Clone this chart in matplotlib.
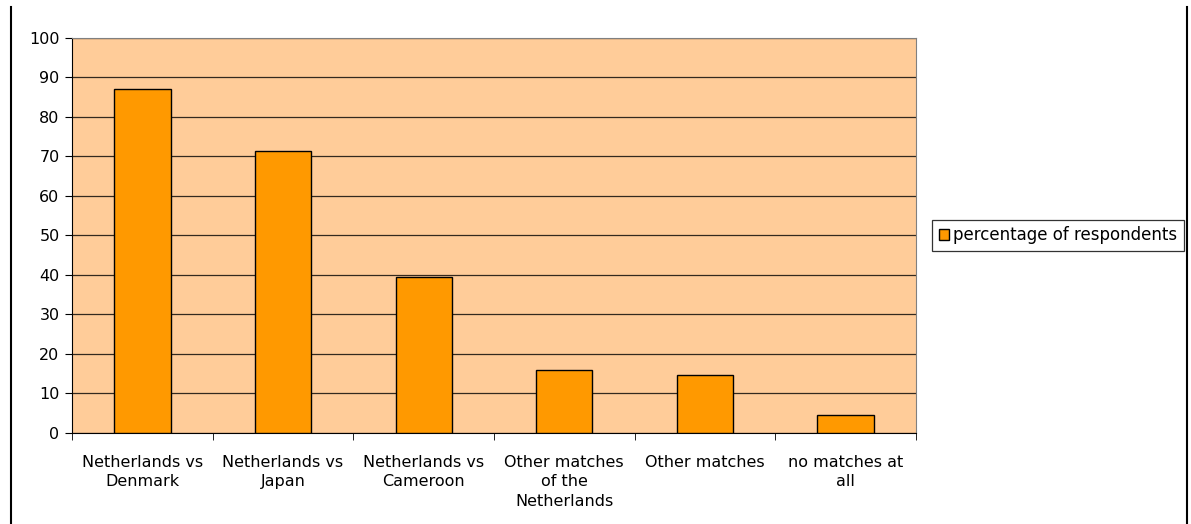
import matplotlib
matplotlib.use("Agg")
import matplotlib.pyplot as plt
import numpy as np
from matplotlib.lines import Line2D

categories = ["Netherlands vs\nDenmark", "Netherlands vs\nJapan", "Netherlands vs\nCameroon",
              "Other matches\nof the\nNetherlands", "Other matches", "no matches at\nall"]
values = [87, 71.3, 39.4, 15.9, 14.8, 4.5]
series_name = "percentage of respondents"

plt.rcParams['font.family'] = ['DejaVu Sans']
fs = 11.5

fig = plt.figure(figsize=(11.91, 5.24), dpi=100)
ax = fig.add_axes([0.0605, 0.1737, 0.7085, 0.7538])
ax.set_facecolor('#FFCC99')

x = np.arange(len(categories))
bars = ax.bar(x, values, width=0.4, color='#FF9900', edgecolor='black', linewidth=1,
              zorder=3, label=series_name)

ax.set_xlim(-0.5, len(categories) - 0.5)
ax.set_ylim(0, 100)
ax.set_yticks(np.arange(0, 101, 10))
ax.tick_params(axis='y', labelsize=fs, length=5, direction='out', pad=4)
ax.yaxis.grid(True, color='black', linewidth=0.9, alpha=0.8, zorder=1)
ax.set_axisbelow(True)

ax.set_xticks(x)
ax.set_xticklabels(categories, fontsize=fs, linespacing=1.35)
ax.tick_params(axis='x', length=0, pad=16)
ax.set_xticks(np.arange(-0.5, len(categories)), minor=True)
ax.tick_params(axis='x', which='minor', length=5, direction='out')

for s in ['left', 'bottom']:
    ax.spines[s].set_color('black')
for s in ['top', 'right']:
    ax.spines[s].set_color('#808080')

leg = ax.legend(loc='center left', bbox_to_anchor=(1.019, 0.5), fontsize=fs + 0.5,
                frameon=True, fancybox=False, handlelength=0.6, handleheight=0.6,
                handletextpad=0.25, borderpad=0.4, borderaxespad=0)
leg.get_frame().set_edgecolor('black')
leg.get_frame().set_linewidth(0.9)

fig.add_artist(Line2D([11 / 1191, 11 / 1191], [0, 1 - 7 / 524], color='black', lw=1.5))
fig.add_artist(Line2D([1187 / 1191, 1187 / 1191], [0, 1 - 7 / 524], color='black', lw=1.5))

fig.savefig('out.png', dpi=100)
